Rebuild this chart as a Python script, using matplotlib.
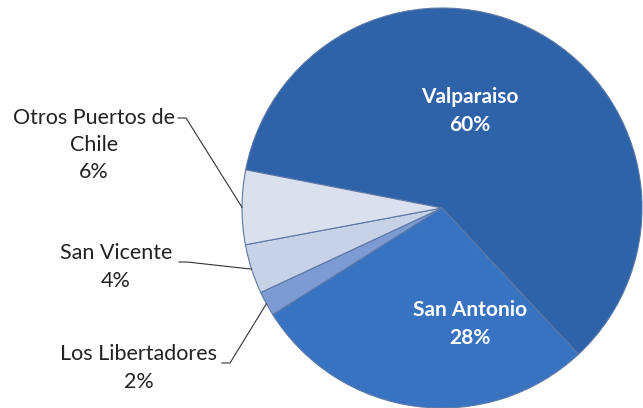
import numpy as np
import matplotlib.pyplot as plt

# Port shares (%), drawn clockwise starting from Valparaiso
ports = ["Valparaiso", "San Antonio", "Los Libertadores", "San Vicente", "Otros Puertos de\nChile"]
shares = [60, 28, 2, 4, 6]
colors = ["#2e62a9", "#3873c2", "#7d9bd2", "#c8d2e6", "#dae0ed"]

plt.rcParams["font.family"] = ["Lato", "DejaVu Sans"]

fig = plt.figure(figsize=(6.43, 4.08), dpi=100)
ax = fig.add_axes([0, 0, 1, 1])

cx, cy, r = 442, 200, 200
wedges, _ = ax.pie(shares, colors=colors, startangle=169, counterclock=False,
                   center=(cx, cy), radius=r, frame=True,
                   wedgeprops=dict(edgecolor="#5b77a6", linewidth=0.8))
ax.set_xlim(0, 643)
ax.set_ylim(0, 408)
ax.set_aspect("equal")
ax.axis("off")

# labels inside the two big slices
inside = {0: (470, 297), 1: (470, 84)}
for i, (x, y) in inside.items():
    ax.text(x, y, f"{ports[i]}\n{shares[i]}%", ha="center", va="center",
            color="white", fontsize=15, fontweight="bold", linespacing=1.55)

# labels outside for the small slices, with leader lines
outside = {4: (94, 263, 178, 290), 3: (116, 141, 179, 146), 2: (139, 40, 222, 45)}
for i, (tx, ty, lx, ly) in outside.items():
    w = wedges[i]
    mid = np.deg2rad((w.theta1 + w.theta2) / 2)
    ex, ey = cx + r * np.cos(mid), cy + r * np.sin(mid)
    ax.text(tx, ty, f"{ports[i]}\n{shares[i]}%", ha="center", va="center",
            color="#222222", fontsize=15.5, linespacing=1.45)
    ax.plot([lx, lx + 8, ex], [ly, ly, ey], color="#333333", linewidth=0.8)

fig.savefig("out.png", dpi=100)
